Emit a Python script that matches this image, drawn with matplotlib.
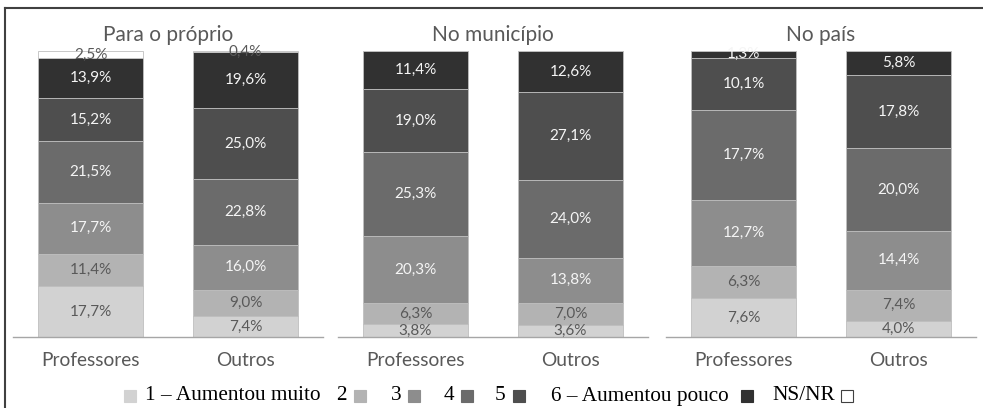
import numpy as np
import matplotlib.pyplot as plt
from matplotlib.patches import Rectangle
from matplotlib.lines import Line2D

# data
panels = ["Para o próprio", "No município", "No país"]
groups = ["Professores", "Outros"]
levels = ["1 – Aumentou muito", "2", "3", "4", "5", "6 – Aumentou pouco", "NS/NR"]

proprio_prof = [17.7, 11.4, 17.7, 21.5, 15.2, 13.9, 2.5]
proprio_outros = [7.4, 9.0, 16.0, 22.8, 25.0, 19.6, 0.4]
municipio_prof = [3.8, 6.3, 20.3, 25.3, 19.0, 11.4, 0.0]
municipio_outros = [3.6, 7.0, 13.8, 24.0, 27.1, 12.6, 0.0]
pais_prof = [7.6, 6.3, 12.7, 17.7, 10.1, 1.3, 0.0]
pais_outros = [4.0, 7.4, 14.4, 20.0, 17.8, 5.8, 0.0]

panel_data = [
    [proprio_prof, proprio_outros],
    [municipio_prof, municipio_outros],
    [pais_prof, pais_outros],
]

colors = ["#d2d2d2", "#b3b3b3", "#8d8d8d", "#6b6b6b", "#4e4e4e", "#313131", "#ffffff"]
label_colors = ["#595959", "#595959", "#f5f5f5", "#f5f5f5", "#f5f5f5", "#f5f5f5", "#595959"]

plt.rcParams["font.family"] = ["Lato", "DejaVu Sans"]

fig = plt.figure(figsize=(9.83, 4.08), dpi=100)

W, H = 983.0, 408.0
panel_left = [13, 338, 666]
panel_w = 310
ax_bottom = (H - 337) / H
ax_top = (H - 51) / H

x = np.arange(len(groups))
bar_w = 0.68

for p, title in enumerate(panels):
    ax = fig.add_axes([panel_left[p] / W, ax_bottom, panel_w / W, ax_top - ax_bottom])
    vals = np.array(panel_data[p])  # shape (2, 7)
    totals = vals.sum(axis=1)
    shares = vals / totals[:, None]
    bottom = np.zeros(len(groups))
    for k in range(len(levels)):
        ax.bar(x, shares[:, k], bar_w, bottom=bottom, color=colors[k],
               edgecolor="#bfbfbf", linewidth=0.6, zorder=2)
        for i in range(len(groups)):
            if vals[i, k] > 0:
                ax.text(x[i], bottom[i] + shares[i, k] / 2,
                        f"{vals[i, k]:.1f}%".replace(".", ","),
                        ha="center", va="center", fontsize=11,
                        color=label_colors[k], zorder=3)
        bottom += shares[:, k]
    ax.set_xlim(-0.5, 1.5)
    ax.set_ylim(0, 1)
    ax.set_yticks([])
    ax.set_xticks(x)
    ax.set_xticklabels(groups, fontsize=13.8, color="#595959")
    ax.tick_params(axis="x", length=0, pad=11)
    for s in ["top", "left", "right"]:
        ax.spines[s].set_visible(False)
    ax.spines["bottom"].set_color("#a6a6a6")
    ax.spines["bottom"].set_linewidth(1.0)
    ax.set_title(title, fontsize=15, color="#595959", pad=7)

# outer frame (left and top edges visible)
fig.add_artist(Line2D([5 / W, 5 / W], [0, 1 - 8 / H], transform=fig.transFigure,
                      color="#404040", linewidth=1.5))
fig.add_artist(Line2D([5 / W, 1], [1 - 8 / H, 1 - 8 / H], transform=fig.transFigure,
                      color="#404040", linewidth=1.5))

# legend drawn by hand: first marker before text, the rest after
leg_y = (H - 396) / H
sq = 12
text_x = [145, 336, 391, 444, 495, 551, 772]
square_x = [124, 354, 408, 461, 513, 741, 841]
for k, lab in enumerate(levels):
    fig.text(text_x[k] / W, leg_y, lab, family="Liberation Serif", fontsize=15.3,
             va="center", ha="left", color="black")
    fig.add_artist(Rectangle((square_x[k] / W, leg_y - (sq / 2) / H), sq / W, sq / H,
                             transform=fig.transFigure, facecolor=colors[k],
                             edgecolor="#404040" if k == 6 else colors[k],
                             linewidth=0.8))

fig.savefig("out.png", dpi=100)
plt.close(fig)
